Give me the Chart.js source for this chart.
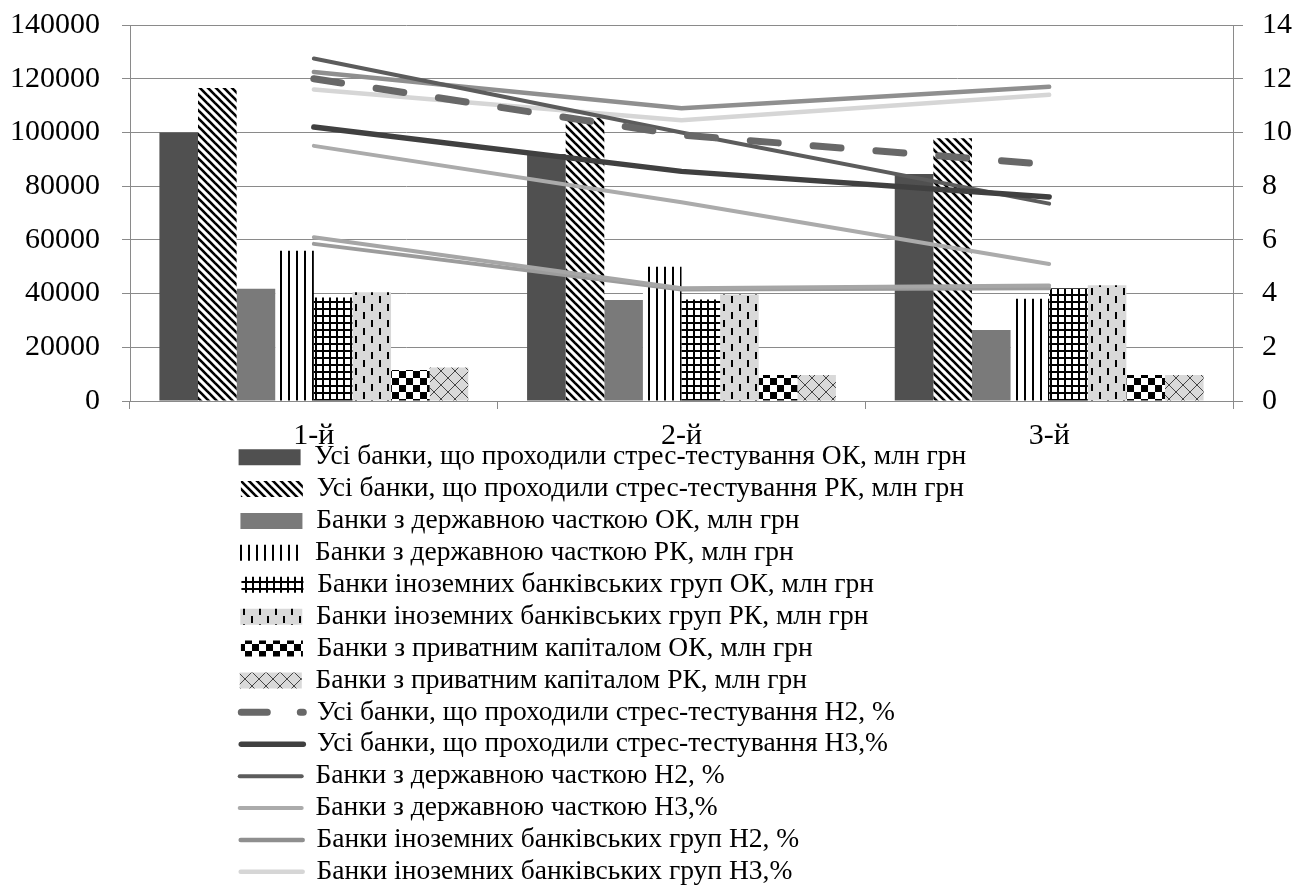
<!DOCTYPE html>
<html>
<head>
<meta charset="utf-8">
<script src="https://cdn.jsdelivr.net/npm/chart.js@4.4.1/dist/chart.umd.min.js"></script>
<style>
  html, body { margin: 0; padding: 0; background: #fff; }
  #wrap { width: 1308px; height: 887px; position: relative; }
</style>
</head>
<body>
<div id="wrap"><canvas id="stresschart"></canvas></div>
<script>
const FONT = '"Liberation Serif", "Times New Roman", serif';

// categories (quarter / stage)
const categories = ["1-й", "2-й", "3-й"];

// capital, mln UAH (left axis)
const allOK = [100000, 92000, 84500];
const allRK = [116500, 105500, 97800];
const stateOK = [41800, 37600, 26400];
const stateRK = [55900, 50000, 38100];
const foreignOK = [38500, 37800, 42000];
const foreignRK = [40500, 39700, 43100];
const privateOK = [11500, 9700, 9700];
const privateRK = [12500, 9700, 9700];

// ratios, % (right axis)
const allH2 = [12.0, 9.9, 8.8];
const allH3 = [10.2, 8.55, 7.6];
const stateH2 = [12.75, 10.0, 7.35];
const stateH3 = [9.5, 7.4, 5.1];
const foreignH2 = [12.25, 10.9, 11.7];
const foreignH3 = [11.6, 10.45, 11.4];
const privateH2 = [6.1, 4.2, 4.3];
const privateH3 = [5.85, 4.15, 4.2];

const leftTicks = [0, 20000, 40000, 60000, 80000, 100000, 120000, 140000];
const rightTicks = [0, 2, 4, 6, 8, 10, 12, 14];

// fill patterns for the bars
function makePattern(w, h, draw) {
    const c = document.createElement("canvas");
    c.width = w;
    c.height = h;
    const g = c.getContext("2d");
    draw(g, w, h);
    return g.createPattern(c, "repeat");
}

const diagPattern = makePattern(8, 8, (g, w, h) => {
    g.fillStyle = "#fff";
    g.fillRect(0, 0, w, h);
    g.strokeStyle = "#000";
    g.lineWidth = 2.6;
    for (let k = -1; k <= 1; k++) {
        g.beginPath();
        g.moveTo(k * w - 1, -1);
        g.lineTo(k * w + w + 1, h + 1);
        g.stroke();
    }
});

const vertPattern = makePattern(8, 8, (g, w, h) => {
    g.fillStyle = "#fff";
    g.fillRect(0, 0, w, h);
    g.fillStyle = "#000";
    g.fillRect(0, 0, 2, h);
});

const gridPattern = makePattern(7, 7, (g, w, h) => {
    g.fillStyle = "#fff";
    g.fillRect(0, 0, w, h);
    g.fillStyle = "#000";
    g.fillRect(0, 0, 2, h);
    g.fillRect(0, 0, w, 2);
});

const dashPattern = makePattern(16, 16, (g, w, h) => {
    g.fillStyle = "#d9d9d9";
    g.fillRect(0, 0, w, h);
    g.fillStyle = "#000";
    g.fillRect(3, 0, 2, 7);
    g.fillRect(11, 8, 2, 7);
});

const checkPattern = makePattern(14, 14, (g, w, h) => {
    g.fillStyle = "#fff";
    g.fillRect(0, 0, w, h);
    g.fillStyle = "#000";
    g.fillRect(0, 0, 7, 7);
    g.fillRect(7, 7, 7, 7);
});

const crossPattern = makePattern(14, 14, (g, w, h) => {
    g.fillStyle = "#d9d9d9";
    g.fillRect(0, 0, w, h);
    g.strokeStyle = "#444";
    g.lineWidth = 1;
    g.beginPath();
    g.moveTo(0, 0); g.lineTo(w, h);
    g.moveTo(w, 0); g.lineTo(0, h);
    g.stroke();
});

function bar(label, data, fill) {
    return {
        type: "bar",
        label: label,
        data: data,
        backgroundColor: fill,
        borderWidth: 0,
        yAxisID: "y",
        order: 2
    };
}

function line(label, data, color, width, dash, noLegend) {
    return {
        type: "line",
        label: label,
        data: data,
        borderColor: color,
        backgroundColor: color,
        borderWidth: width,
        borderDash: dash || [],
        borderCapStyle: "round",
        borderJoinStyle: "round",
        pointRadius: 0,
        tension: 0,
        fill: false,
        yAxisID: "y1",
        order: 1,
        noLegend: !!noLegend
    };
}

const datasets = [
    bar("Усі банки, що проходили стрес-тестування ОК, млн грн", allOK, "#505050"),
    bar("Усі банки, що проходили стрес-тестування РК, млн грн", allRK, diagPattern),
    bar("Банки з державною часткою ОК, млн грн", stateOK, "#7a7a7a"),
    bar("Банки з державною часткою РК, млн грн", stateRK, vertPattern),
    bar("Банки іноземних банківських груп ОК, млн грн", foreignOK, gridPattern),
    bar("Банки іноземних банківських груп РК, млн грн", foreignRK, dashPattern),
    bar("Банки з приватним капіталом ОК, млн грн", privateOK, checkPattern),
    bar("Банки з приватним капіталом РК, млн грн", privateRK, crossPattern),
    line("Усі банки, що проходили стрес-тестування Н2, %", allH2, "#686868", 7, [28, 35]),
    line("Усі банки, що проходили стрес-тестування Н3,%", allH3, "#404040", 5.5),
    line("Банки з державною часткою Н2, %", stateH2, "#5c5c5c", 4),
    line("Банки з державною часткою Н3,%", stateH3, "#ababab", 4),
    line("Банки іноземних банківських груп Н2, %", foreignH2, "#8f8f8f", 4.5),
    line("Банки іноземних банківських груп Н3,%", foreignH3, "#d6d6d6", 4.5),
    line("Банки з приватним капіталом Н2, %", privateH2, "#a6a6a6", 4, null, true),
    line("Банки з приватним капіталом Н3,%", privateH3, "#9c9c9c", 4, null, true)
];

// legend rows: one item per row, all padded to the same width so they line up
const LEGEND_SIZE = 27.5;
const measureCtx = document.createElement("canvas").getContext("2d");
measureCtx.font = LEGEND_SIZE + "px " + FONT;
const LEGEND_TEXT_W = 752;
function padLabel(t) {
    let s = t;
    while (true) {
        const cur = measureCtx.measureText(s).width;
        const next = measureCtx.measureText(s + " ").width;
        if (Math.abs(next - LEGEND_TEXT_W) < Math.abs(cur - LEGEND_TEXT_W)) s += " ";
        else break;
    }
    return s;
}

const baseLabels = Chart.defaults.plugins.legend.labels.generateLabels;

// x labels need a taller axis box (they are clipped to it), legend sits over them
const X_AXIS_H = 50;
const LEGEND_LIFT = 12;
const legendLift = {
    id: "legendLift",
    afterLayout(chart) {
        chart.legend.top -= LEGEND_LIFT;
        chart.legend.height += LEGEND_LIFT;
    }
};

const gridColor = "#8a8a8a";

const stressChart = new Chart(document.getElementById("stresschart"), {
    type: "bar",
    data: {
        labels: categories,
        datasets: datasets
    },
    plugins: [legendLift],
    options: {
        responsive: true,
        maintainAspectRatio: false,
        animation: false,
        layout: {
            padding: { top: 25, left: 0, right: 0, bottom: 0 }
        },
        datasets: {
            bar: {
                categoryPercentage: 0.84,
                barPercentage: 1
            }
        },
        plugins: {
            tooltip: { enabled: false },
            legend: {
                position: "bottom",
                align: "center",
                maxHeight: 887 - 401 - X_AXIS_H,
                labels: {
                    color: "#000",
                    font: { family: FONT, size: LEGEND_SIZE },
                    padding: 4.4,
                    usePointStyle: true,
                    pointStyleWidth: 62,
                    boxHeight: 16,
                    sort: (a, b) => a.datasetIndex - b.datasetIndex,
                    filter: (item, data) => !data.datasets[item.datasetIndex].noLegend,
                    generateLabels: function(chart) {
                        const items = baseLabels(chart);
                        items.forEach(it => {
                            const ds = chart.data.datasets[it.datasetIndex];
                            if (ds.type === "line") {
                                it.pointStyle = "line";
                                it.lineCap = "round";
                                it.lineWidth = ds.borderWidth;
                                it.strokeStyle = ds.borderColor;
                                // shorter period in the swatch so a dot shows after the dash
                                it.lineDash = ds.borderDash.length ? [26, 33] : [];
                            } else {
                                it.pointStyle = "rect";
                                it.lineWidth = 0;
                            }
                            it.text = padLabel(it.text);
                        });
                        return items;
                    }
                }
            }
        },
        scales: {
            x: {
                offset: true,
                grid: {
                    offset: true,
                    drawOnChartArea: false,
                    drawTicks: true,
                    tickLength: 8,
                    color: gridColor
                },
                border: { color: gridColor },
                ticks: {
                    color: "#000",
                    padding: 9,
                    font: { family: FONT, size: 30 }
                },
                afterFit: (scale) => { scale.height = X_AXIS_H; }
            },
            y: {
                position: "left",
                min: 0,
                max: leftTicks[leftTicks.length - 1],
                afterBuildTicks: (scale) => { scale.ticks = leftTicks.map(v => ({ value: v })); },
                grid: {
                    color: gridColor,
                    tickLength: 8
                },
                border: { color: gridColor },
                ticks: {
                    color: "#000",
                    padding: 22,
                    font: { family: FONT, size: 30 },
                    callback: (v) => String(v)
                },
                afterFit: (scale) => {
                    scale.width = 130;
                    scale.paddingTop = 0;
                    scale.paddingBottom = 0;
                }
            },
            y1: {
                position: "right",
                min: 0,
                max: rightTicks[rightTicks.length - 1],
                afterBuildTicks: (scale) => { scale.ticks = rightTicks.map(v => ({ value: v })); },
                grid: {
                    drawOnChartArea: false,
                    color: gridColor,
                    tickLength: 10
                },
                border: { color: gridColor },
                ticks: {
                    color: "#000",
                    padding: 19,
                    font: { family: FONT, size: 30 },
                    callback: (v) => String(v)
                },
                afterFit: (scale) => {
                    scale.width = 75;
                    scale.paddingTop = 0;
                    scale.paddingBottom = 0;
                }
            }
        }
    }
});
</script>
</body>
</html>
